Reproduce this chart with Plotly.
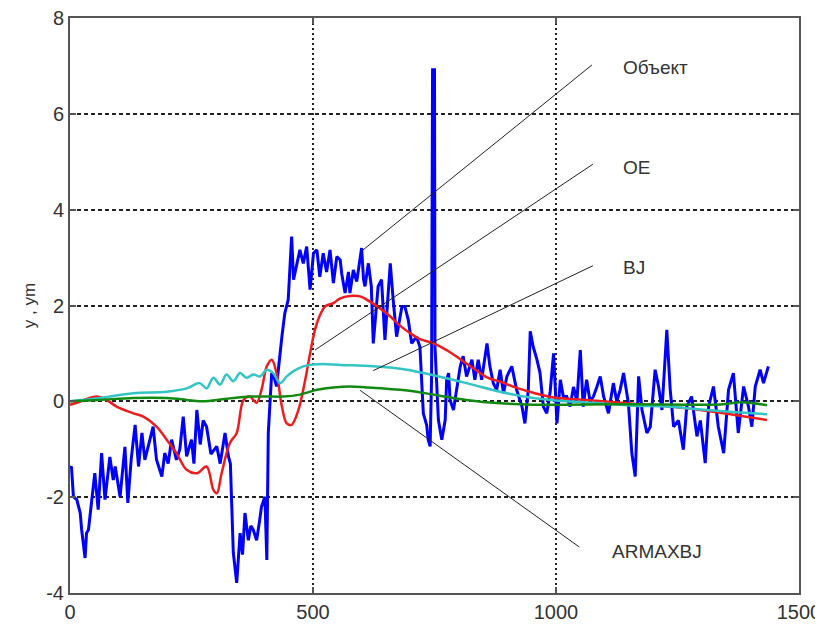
import plotly.graph_objects as go

# ---- Data ----
obj_x = [0, 3, 7, 14, 21, 24, 31, 34, 38, 45, 51, 58, 65, 72, 82, 89, 93, 103, 113, 119,
         126, 134, 141, 148, 154, 162, 171, 178, 189, 195, 202, 209, 219, 226, 233, 240,
         250, 255, 261, 268, 274, 281, 290, 302, 309, 319, 326, 330, 336, 343, 350, 355,
         360, 367, 372, 377, 384, 390, 394, 401, 405, 408, 415, 420, 425, 436, 442, 449,
         456, 460, 466, 473, 480, 487, 494, 501, 508, 514, 521, 528, 535, 542, 549, 556,
         559, 566, 573, 576, 583, 590, 600, 604, 607, 614, 620, 624, 634, 641, 648, 659,
         665, 672, 683, 689, 696, 703, 713, 720, 727, 734, 737, 741, 744, 746, 750, 751,
         758, 765, 772, 775, 779, 782, 789, 796, 803, 809, 816, 827, 833, 840, 847, 858,
         864, 871, 878, 885, 892, 899, 909, 919, 930, 936, 943, 947, 953, 960, 967, 974,
         981, 988, 995, 1002, 1009, 1015, 1022, 1029, 1036, 1043, 1050, 1056, 1063, 1070,
         1077, 1084, 1091, 1098, 1108, 1118, 1125, 1132, 1139, 1149, 1156, 1163, 1170,
         1177, 1187, 1194, 1204, 1211, 1218, 1221, 1228, 1235, 1242, 1252, 1262, 1269,
         1279, 1290, 1297, 1307, 1314, 1324, 1334, 1345, 1355, 1365, 1375, 1386, 1396,
         1403, 1410, 1420, 1427, 1437]
obj_y = [-1.4, -1.36, -1.99, -2.05, -2.33, -2.68, -3.27, -2.75, -2.68, -2.05, -1.5, -2.26,
         -1.08, -2.05, -1.16, -1.64, -1.36, -1.99, -0.95, -2.12, -1.2, -0.49, -1.36, -0.66,
         -1.22, -0.9, -0.53, -1.22, -1.57, -1.08, -1.3, -0.8, -1.22, -1.0, -0.32, -1.15,
         -0.8, -1.3, -0.18, -0.9, -0.4, -0.53, -1.1, -0.94, -1.3, -0.66, -1.15, -1.3, -3.16,
         -3.79, -2.75, -3.2, -2.33, -2.9, -2.6, -2.68, -2.9, -2.5, -2.2, -1.99, -3.31, -0.66,
         0.59, 0.5, 0.31, 1.35, 1.84, 2.12, 3.44, 2.54, 2.81, 3.16, 2.88, 3.23, 2.33, 3.09,
         3.16, 2.6, 3.09, 2.7, 3.16, 2.47, 3.02, 2.95, 2.67, 2.26, 2.7, 2.26, 2.74, 2.5, 3.2,
         2.54, 2.4, 2.88, 2.4, 1.21, 2.4, 2.54, 1.28, 2.88, 2.12, 1.35, 1.98, 1.98, 1.7, 1.21,
         1.35, 1.14, -0.25, -0.5, -0.8, -0.94, 0.5, 6.92, 6.92, 1.14, -0.39, -0.8, -0.39,
         0.45, 0.59, 0.03, -0.18, 0.24, 0.73, 0.94, 0.52, 0.87, 0.45, 0.87, 0.45, 1.21, 0.73,
         0.38, 0.24, 0.66, 0.17, 0.52, 0.73, 0.24, -0.11, -0.46, 0.24, 1.46, 1.14, 0.9, 0.6,
         -0.11, -0.25, 0.2, 1.0, -0.46, 0.45, 0.1, 0.1, -0.11, 0.3, 0.0, 1.07, -0.11, 0.45,
         0.0, 0.1, 0.3, 0.52, 0.1, -0.25, 0.38, 0.0, 0.24, 0.59, -0.04, -1.08, -1.57, 0.52,
         -0.18, -0.66, -0.53, 0.66, 0.31, -0.18, 0.31, 1.49, 0.24, -0.53, -0.4, -1.01, -0.11,
         0.1, -0.73, -0.4, -1.29, -0.11, 0.31, -0.53, -1.08, 0.24, 0.59, -0.66, 0.31, -0.11,
         -0.53, 0.31, 0.66, 0.38, 0.73]

oe_x = [0, 14, 55, 75, 96, 130, 151, 178, 199, 219, 240, 261, 281, 295, 302, 312, 329, 343,
        357, 370, 384, 394, 405, 415, 425, 436, 446, 456, 470, 484, 494, 508, 525, 542, 556,
        576, 597, 617, 638, 659, 679, 700, 720, 748, 775, 803, 830, 858, 885, 919, 953, 995,
        1063, 1146, 1220, 1297, 1365, 1434]
oe_y = [-0.07, -0.03, 0.1, 0.03, -0.11, -0.25, -0.32, -0.53, -0.8, -1.08, -1.43, -1.5, -1.36,
        -1.85, -1.92, -1.5, -0.87, -0.66, 0.03, 0.1, -0.03, 0.24, 0.73, 0.87, 0.59, -0.11,
        -0.46, -0.49, -0.18, 0.45, 1.0, 1.63, 1.98, 2.05, 2.15, 2.2, 2.19, 2.08, 1.94, 1.77,
        1.58, 1.42, 1.3, 1.21, 1.07, 0.88, 0.69, 0.5, 0.41, 0.28, 0.18, 0.08, 0.03, -0.04,
        -0.1, -0.18, -0.28, -0.39]

bj_x = [0, 61, 130, 199, 240, 267, 281, 295, 309, 322, 336, 350, 363, 377, 391, 405, 418,
        432, 446, 460, 480, 501, 521, 556, 624, 693, 741, 816, 885, 953, 1022, 1091, 1159,
        1228, 1297, 1365, 1434]
bj_y = [0.0, 0.07, 0.17, 0.2, 0.27, 0.38, 0.27, 0.49, 0.35, 0.56, 0.42, 0.59, 0.49, 0.56,
        0.52, 0.66, 0.59, 0.38, 0.52, 0.63, 0.73, 0.77, 0.78, 0.76, 0.73, 0.66, 0.56, 0.38,
        0.2, 0.07, 0.0, -0.04, -0.09, -0.11, -0.17, -0.22, -0.27]

armax_x = [0, 61, 130, 199, 240, 267, 302, 336, 370, 405, 439, 473, 508, 542, 576, 611, 645,
           679, 713, 748, 816, 885, 953, 1022, 1159, 1297, 1345, 1380, 1434]
armax_y = [0.0, 0.03, 0.07, 0.07, 0.03, 0.0, 0.03, 0.07, 0.1, 0.1, 0.1, 0.14, 0.24, 0.29,
           0.31, 0.29, 0.27, 0.24, 0.2, 0.14, 0.03, -0.04, -0.07, -0.07, -0.06, -0.07, -0.06,
           -0.02, -0.08]

# Leader lines: (from point on curve) -> (to label)
label_texts = ["Объект", "OE", "BJ", "ARMAXBJ"]
leader_x0 = [603, 504, 624, 597]
leader_y0 = [3.16, 1.07, 0.64, 0.23]
leader_x1 = [1074, 1076, 1076, 1048]
leader_y1 = [7.02, 4.95, 2.83, -3.04]
label_x = [1134, 1134, 1134, 1111]
label_y = [6.96, 4.87, 2.79, -3.14]

x_ticks = [0, 500, 1000, 1500]
y_ticks = [-4, -2, 0, 2, 4, 6, 8]

# ---- Figure ----
fig = go.Figure()
fig.add_trace(go.Scatter(x=obj_x, y=obj_y, mode="lines",
                         line=dict(color="#0000ff", width=3), hoverinfo="skip"))
fig.add_trace(go.Scatter(x=oe_x, y=oe_y, mode="lines", line_shape="spline",
                         line=dict(color="#ee1c1c", width=2.5), hoverinfo="skip"))
fig.add_trace(go.Scatter(x=bj_x, y=bj_y, mode="lines", line_shape="spline",
                         line=dict(color="#33c4c4", width=2.5), hoverinfo="skip"))
fig.add_trace(go.Scatter(x=armax_x, y=armax_y, mode="lines", line_shape="spline",
                         line=dict(color="#128a12", width=2.5), hoverinfo="skip"))

for i in range(len(label_texts)):
    fig.add_trace(go.Scatter(x=[leader_x0[i], leader_x1[i]], y=[leader_y0[i], leader_y1[i]],
                             mode="lines", line=dict(color="#222222", width=1),
                             hoverinfo="skip"))
    fig.add_annotation(x=label_x[i], y=label_y[i], text=label_texts[i], showarrow=False,
                       xanchor="left", yanchor="middle",
                       font=dict(family="Liberation Sans, Arial", size=19, color="#333333"))

fig.update_layout(
    width=815, height=618,
    margin=dict(l=62, r=24, t=10, b=33),
    paper_bgcolor="white", plot_bgcolor="white",
    showlegend=False,
    font=dict(family="Liberation Sans, Arial", size=20, color="#333333"),
)
fig.update_xaxes(range=[0, 1500], tickvals=x_ticks, ticktext=[str(v) for v in x_ticks],
                 automargin=False, ticklabeloverflow="allow",
                 showgrid=True, gridcolor="#222222", gridwidth=1.5, griddash="2px,3px",
                 zeroline=False, showline=True, linecolor="#555555", linewidth=2,
                 mirror="ticks", ticks="inside", ticklen=6, tickcolor="#555555",
                 tickwidth=2, tickfont=dict(size=20, color="#333333"))
fig.update_yaxes(range=[-4, 8], tickvals=y_ticks, ticktext=[str(v) for v in y_ticks],
                 automargin=False, ticklabeloverflow="allow",
                 showgrid=True, gridcolor="#222222", gridwidth=1.5, griddash="4px,3px",
                 zeroline=False, showline=True, linecolor="#555555", linewidth=2,
                 mirror="ticks", ticks="inside", ticklen=6, tickcolor="#555555",
                 tickwidth=2, tickfont=dict(size=20, color="#333333"),
                 title=dict(text="y , ym", font=dict(size=17, color="#333333"), standoff=6))

fig.write_html("out.html")
